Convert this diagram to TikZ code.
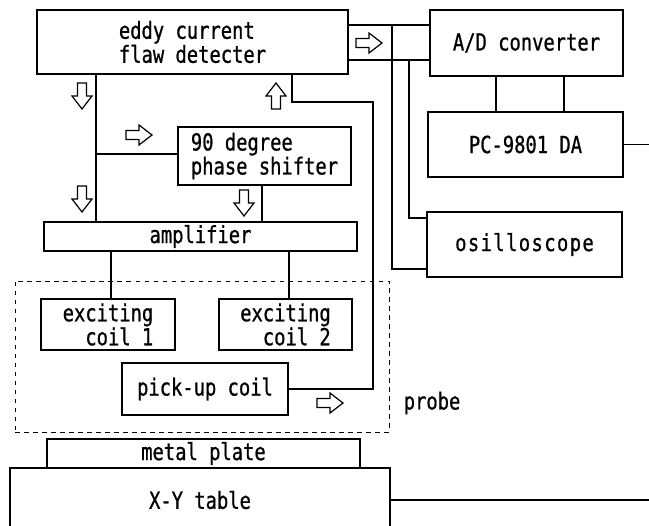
\documentclass[tikz,border=0pt]{standalone}
\usepackage{fontspec}
\newfontfamily\diafont[FakeStretch=0.8,FakeBold=0.8]{DejaVu Sans Mono}
\tikzset{
  bloc/.style={draw, line width=1.5pt, inner sep=0pt, align=left,
    font=\diafont\fontsize{23.5}{24}\selectfont},
  fil/.style={line width=1.5pt},
  fleche/.pic={\draw[line width=1.2pt, line join=miter]
    (-13,-4.5) -- (0,-4.5) -- (0,-10) -- (13,0) -- (0,10) -- (0,4.5) -- (-13,4.5) -- cycle;}
}
\begin{document}
\begin{tikzpicture}[x=1pt,y=-1pt]
    % Cadre
    \fill[white] (0,0) rectangle (649,526);
    \clip (0,0) rectangle (649,526);

    % Sonde (pointillés)
    \node[draw, dash pattern=on 4.5pt off 4.5pt, line width=0.8pt, inner sep=0pt,
      minimum width=374pt, minimum height=151pt] (probebox) at (202,356.5) {};
    \node[bloc, draw=none, anchor=west] (probelbl) at (403,403) {probe};

    % Blocs
    \node[bloc, minimum width=311pt, minimum height=64pt] (eddy) at (192.5,42) {eddy current\\flaw detecter};
    \node[bloc, minimum width=82pt, minimum height=35pt] (bus) at (389,42.5) {};
    \node[bloc, minimum width=193pt, minimum height=66pt] (ad) at (526.5,43) {A/D converter};
    \node[bloc, minimum width=195pt, minimum height=65pt] (pc) at (525.5,144.5) {PC-9801 DA};
    \node[bloc, minimum width=195pt, minimum height=65pt] (osc) at (524.5,244.5)
      {\addfontfeature{LetterSpace=6}osilloscope};
    \node[bloc, minimum width=173pt, minimum height=58pt] (phase) at (264.5,156) {90 degree\\phase shifter};
    \node[bloc, minimum width=313pt, minimum height=29pt] (amp) at (200.5,236.5) {amplifier};
    \node[bloc, minimum width=134pt, minimum height=51pt] (coil1) at (108,324.5) {exciting\\\hphantom{ex}coil 1};
    \node[bloc, minimum width=133pt, minimum height=51pt] (coil2) at (285.5,324.5) {exciting\\\hphantom{ex}coil 2};
    \node[bloc, minimum width=166pt, minimum height=52pt] (pickup) at (205,389) {pick-up coil};
    \node[bloc, minimum width=313pt, minimum height=29pt] (plate) at (203.5,453.5) {metal plate};
    \node[bloc, minimum width=380pt, minimum height=64pt] (xy) at (200,500) {X-Y table};

    % Liaisons
    \coordinate (split) at (96,154);
    \draw[fil] (eddy.south -| split) -- (amp.north -| split);
    \draw[fil] (split) -- (split -| phase.west);
    \draw[fil] (phase.south -| 262,0) -- (amp.north -| 262,0);
    \draw[fil] (amp.south -| 111,0) -- (coil1.north -| 111,0);
    \draw[fil] (amp.south -| 289,0) -- (coil2.north -| 289,0);
    \draw[fil] (pickup.east) -| (373,102) -| (eddy.south -| 292,0);
    \draw[fil] (bus.north -| 392,0) |- (osc.west |- 0,269);
    \draw[fil] (bus.south -| 409,0) |- (osc.west |- 0,218);
    \draw[fil] (ad.south -| 496,0) -- (pc.north -| 496,0);
    \draw[fil] (ad.south -| 564,0) -- (pc.north -| 564,0);
    \draw[fil] (pc.east) -- (pc.east -| 649,0);
    \draw[fil] (xy.east) -- (xy.east -| 649,0);

    % Flèches creuses
    \pic[rotate=-90] at (82,96) {fleche};
    \pic at (369,43) {fleche};
    \pic[rotate=90] at (276,96) {fleche};
    \pic at (139,135) {fleche};
    \pic[rotate=-90] at (82,199) {fleche};
    \pic[rotate=-90] at (244,203) {fleche};
    \pic at (330,403) {fleche};
\end{tikzpicture}
\end{document}
